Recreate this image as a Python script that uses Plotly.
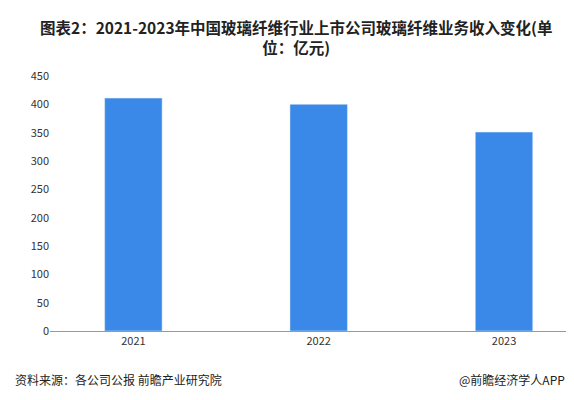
import plotly.graph_objects as go

years = ["2021", "2022", "2023"]
revenue = [411, 400, 351]
y_ticks = [0, 50, 100, 150, 200, 250, 300, 350, 400, 450]

fig = go.Figure(go.Bar(x=years, y=revenue, marker_color="#3a88e8", width=0.31))
fig.update_layout(
    width=574, height=400, margin=dict(l=42, r=2, t=68, b=77),
    paper_bgcolor="white", plot_bgcolor="white",
    font=dict(family="Noto Sans CJK SC", size=11, color="#333"),
    xaxis=dict(type="category", range=[-0.45, 2.41], showline=True, linecolor="#999", ticks="", tickfont=dict(size=11)),
    yaxis=dict(range=[0, 450], tickvals=y_ticks, showgrid=False, zeroline=False, tickfont=dict(size=11)),
    showlegend=False,
)
fig.add_annotation(text="<b>图表2：2021-2023年中国玻璃纤维行业上市公司玻璃纤维业务收入变化(单<br>位：亿元)</b>",
                   xref="paper", yref="paper", x=0.465, y=1, yshift=16, xanchor="center", yanchor="bottom",
                   showarrow=False, font=dict(size=15.5, color="#222"))
fig.add_annotation(text="资料来源：各公司公报 前瞻产业研究院", xref="paper", yref="paper",
                   x=-0.07, y=-0.19, xanchor="left", yanchor="middle", showarrow=False,
                   font=dict(size=12, color="#222"))
fig.add_annotation(text="@前瞻经济学人APP", xref="paper", yref="paper",
                   x=0.975, y=-0.19, xanchor="right", yanchor="middle", showarrow=False,
                   font=dict(size=12, color="#222"))
fig.write_html("out.html")
